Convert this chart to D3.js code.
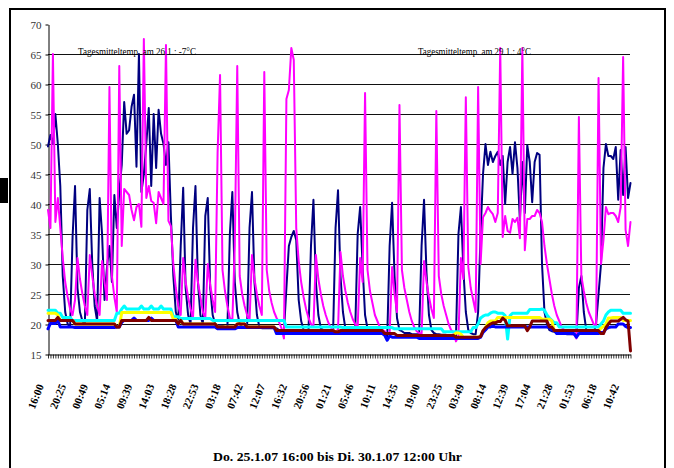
<!DOCTYPE html>
<html><head><meta charset="utf-8">
<script src="https://cdn.jsdelivr.net/npm/d3@7"></script>
<style>body{margin:0;background:#fff}svg{display:block}</style>
</head><body>
<script>
// ---- data (one value per logged reading, 25.1.07 16:00 .. 30.1.07 12:00) ----
const pink = [
39,36,65,37,41,36,31,27,24.5,22.5,
21.5,24,31,27.5,25,23,21.5,31.5,28,25,
23,21.5,30.5,27,24,59.5,28,24.5,22,63,
33,42.5,42,41.5,39,37.3,39.5,40,36.2,67.5,
41,43,40.5,40.2,36.8,42,41,40,66.5,37.2,
36.3,30,26,23,21.5,31,27,24.5,22.5,21,
30.7,27,24.5,22,21,30,26.5,24,22,48.5,
61.5,29,25.5,23,21,20.5,33,63,28,25,
23,21.5,20.5,31.5,27.5,25,23,21.5,62,29,
25.5,23.5,22,21,20.3,19.3,17.6,57.5,59,66,
64,36,30.5,27,24.5,22.5,21,20,19.5,31.5,
27.5,25,23,21.5,20.3,19.5,19,18.8,19,32,
28,25.5,23.5,22,20.8,20,19.5,31,27,58.5,
29,25.5,23.5,21.5,20.5,19.5,19,18.8,18.5,18.5,
29.5,25,22,56.5,29,26,24,22,20.5,19.5,
18.8,18.5,18.3,30.5,27,24.5,22.5,21,55.5,28,
25,23,21.5,20,19,18.5,17.1,18,31,27.5,
57.8,29.5,26,24,22,59.5,30,37.8,38.5,39.5,
38.8,38.3,37,38.5,66,34.5,38,35.5,35.2,37.5,
37,37.7,34.3,66,32.3,37.5,37.5,38,38,39,
38.5,37,33,30,27.5,25,23,21.5,20.5,19.5,
19,18.8,18.5,18.3,18.3,17.6,54.5,28,25.5,23.5,
22,21,20,19.5,61,30,34,39.5,38.3,38.5,
38.5,38,37,39.5,64.5,35.7,33,37
];
const navy = [
49.6,51.5,50,55,50,43,28,22,20,19.5,
34.5,43,26,22,20.5,20,39,42.5,30,23,
20.5,41,35,24,29.5,33,27,41.5,36,42,
46.5,57,51.7,52.3,56.2,58.2,46.2,65,42,45,
50,56,43,55,46,55.7,51.7,50,46.5,50.3,
38,28,22,20.5,33,42.7,26,21.5,20,36,
43,27,21.5,20,38,41,26,21.5,20,19.8,
19.8,19.7,19.5,19.5,35,42,27,22,20,19.5,
19.5,19.5,36,42,27,21.5,19.5,19.3,19.3,19.3,
19.3,19.3,19.3,19.3,19,19,18.8,26,33,34.5,
35.5,34,24,20.5,19,19,19,33,40.7,27,
21.5,19.3,19,19,19,19,18.8,36,42.3,28,
22,19.2,19,19,19,19,35,39.5,29.5,21.5,
19.2,19,19,18.8,18.8,18.8,18.8,18.5,17.5,33,
40.2,28,21,19,18.8,18.5,18.5,18.5,18.3,18.3,
18.3,18.3,33,40.7,28.5,21.5,19,18.5,18.3,18.3,
18.2,18.2,18.2,18,18,18,18,35,39.5,29,
22,19,18.5,18.3,18.3,22,35,45,50,46.5,
48.7,47,48,48.7,46.5,48,40,47,49.5,45,
50.3,46,37.3,47,38.5,49.8,47,40.3,47,48.5,
48.2,30,22,20,19,18.8,18.7,18.5,18.5,18.5,
18.5,18.3,18.3,18.3,18.3,18,26,28,22,19,
18.7,18.5,18.5,20,25,30,46,50,48,48,
47.5,49.5,40.7,49,41.5,49.5,41,43.5
];
const cyan = [
22.3,22.3,22.3,22.3,21.8,21.8,21.1,21.1,21.1,21.1,
20.6,20.6,20.6,20.6,20.6,20.6,20.6,20.6,20.6,20.6,
20.6,20.6,20.6,20.6,20.6,20.6,20.6,20.6,21.8,21.8,
22.5,23,22.5,22.5,22.5,22.5,22.5,22.5,23,22.5,
22.5,22.5,23,22.5,22.5,22.5,23,22.5,22.5,22.5,
22.5,21.2,21.2,21.2,20.9,20.9,20.9,20.9,20.9,20.9,
20.9,20.9,20.9,20.9,20.9,20.9,20.9,20.6,20.6,20.6,
20.6,20.6,20.6,20.6,20.6,20.6,20.6,20.6,20.6,20.6,
20.6,20.6,20.6,20.6,20.6,20.6,20.6,20.6,20.6,20.6,
20.6,20.6,20.6,20.6,20.6,20.6,20.6,19.5,19.5,19.5,
19.5,19.5,19.5,19.5,19.5,19.5,19.5,19.5,19.5,19.5,
19.5,19.5,19.5,19.5,19.5,19.5,19.5,19.5,19.5,19.5,
19.4,19.4,19.4,19.4,19.4,19.4,19.4,19.4,19.4,19.4,
19.4,19.4,19.4,19.4,19.4,19.4,19.4,19.4,19.4,19.4,
19.4,19.2,19.2,19.2,19.2,19.2,19.2,19.2,19.2,19.2,
19.2,19.2,19.2,19.2,19.2,19.2,19.2,19.2,19.2,19.2,
19.2,18.7,18.7,18.7,18.7,18.7,18.7,18.7,18.7,18.7,
18.7,18.7,18.7,19.4,19.4,20,21,21.3,21.5,21.5,
21.8,22,22,21.8,21.8,21.8,21.4,17.5,21.4,21.8,
21.8,21.8,21.8,21.8,21.8,21.8,22.4,22.4,22.4,22.4,
22.4,22.5,22.3,21.5,21,20.6,20.2,20.2,19.5,19.5,
19.5,19.5,19.5,19.5,19.5,19.5,19.5,19.5,19.5,19.5,
19.5,19.5,19.5,19.5,19.5,20,20.5,21.5,22,22.3,
22.3,22.3,22.3,22.3,21.8,21.8,21.8,21.8
];
const yellow = [
21.8,21.8,21.8,21.8,21.5,20.6,20.6,20.6,20.6,20.6,
20.6,20,20,20,20,20,20,20,20,20,
20,20,20,20,20,20,20,20,19.5,19.5,
21.9,21.9,21.9,21.9,21.9,21.9,21.9,21.9,21.9,21.9,
21.9,21.9,21.9,21.9,21.9,21.9,21.9,21.9,21.9,21.9,
21.9,20.8,20.8,20,20.6,20,20,20,20,20,
20,20,20,20,20,20,20,20,20,19.5,
19.5,19.5,19.5,19.5,19.5,19.5,19.5,20,20,20,
20,19.5,19.5,19.5,19.5,19.5,19.5,19.5,19.5,19.5,
19.5,19.5,19.5,18.9,18.9,18.9,18.9,18.9,18.9,18.9,
18.9,18.9,18.9,18.9,18.9,18.9,18.9,18.9,18.9,18.9,
18.9,18.9,18.9,18.9,18.9,18.9,18.9,18.7,18.7,18.9,
18.9,18.9,18.9,18.9,18.9,18.9,18.9,18.9,18.9,18.9,
18.9,18.9,18.9,18.9,18.9,18.9,18.9,18.4,18.4,18.4,
18.4,18.4,18.1,18.1,18.1,18.1,18.1,18.1,18.1,18.1,
18.1,18.1,18.1,18.1,18.1,18.1,18.1,18.1,18.1,18.1,
18.1,18.1,18.1,18.1,18.1,18.1,18.5,18.5,18.3,17.8,
17.8,17.8,17.8,17.8,17.8,17.8,17.9,18.9,19.4,20.2,
20.5,20.5,20.5,21.1,21.1,21.1,21.1,21.1,21.1,21.1,
21.1,21.1,21.1,21.1,21.1,21.1,21.1,21.1,21.1,21.1,
21.1,20.8,20.8,20.8,20.8,20.5,18.9,18.9,18.9,18.9,
18.9,18.9,18.9,18.9,18.9,18.9,18.9,18.9,18.9,18.9,
18.9,18.9,18.9,18.9,18.9,19.3,19.6,20,21,21,
21.1,21.1,21.1,21.1,20.6,20.6,20.6,20.6
];
const blue = [
19.2,20.1,20.1,20.1,20.6,19.5,19.5,19.5,19.5,19.5,
19.5,19.4,19.4,19.4,19.4,19.4,19.4,19.4,19.4,19.4,
19.4,19.4,19.4,19.4,19.4,19.4,19.4,19.4,19.5,19.5,
20.3,20.6,20.6,20.6,20.6,21,20.6,20.6,20.6,20.6,
20.6,20.6,21,20.6,20.6,20.6,20.6,20.6,20.6,20.6,
20.6,20.6,20.6,19.5,19.5,19.5,19.5,19.5,19.5,19.5,
19.5,19.5,19.5,19.5,19.5,19.5,19.5,19.5,19.5,19.2,
19.2,19.2,19.2,19.2,19.2,19.2,19.2,19.4,19.4,19.4,
19.4,19.4,19.4,19.4,19.4,19.4,19.4,19.4,19.4,19.4,
19.4,19.4,19.4,18.4,18.4,18.4,18.4,18.4,18.4,18.4,
18.4,18.4,18.4,18.4,18.4,18.4,18.4,18.4,18.4,18.4,
18.4,18.4,18.4,18.4,18.4,18.4,18.4,18.4,18.4,18.4,
18.4,18.4,18.4,18.4,18.4,18.4,18.4,18.4,18.4,18.4,
18.4,18.4,18.4,18.4,18.4,18.4,18.4,18.1,17.3,18,
17.8,17.8,17.8,17.8,17.8,17.8,17.8,17.8,17.8,17.8,
17.8,17.6,17.6,17.6,17.6,17.6,17.6,17.6,17.6,17.6,
17.6,17.6,17.6,17.6,17.6,17.6,17.6,17.6,17.6,17.6,
17.6,17.6,17.6,17.6,17.6,17.6,17.8,18.6,19,19.5,
19.5,19.7,19.5,19.5,19.5,19.5,19.5,19.5,19.5,19.5,
19.5,19.5,19.5,19.5,19.5,19.5,19.5,19.5,19.5,19.5,
19.5,19.5,19.5,19.5,19.4,19,19,18.4,18.4,18.4,
18.4,18.4,18.4,18.4,18.4,17.8,18.4,18.4,18.4,18.4,
18.4,18.4,18.4,18.4,18.4,18.6,18.6,19.2,19.4,19.5,
19.5,19.5,20,20,20,19.6,19.4,19.4
];
const brown = [
20.6,20.6,20.6,20.6,21.1,20.6,20.6,20.6,20.6,20.6,
20.6,20,20,20,20,20,20,20,20,20,
20,20,20,20,20,20,20,20,19.5,19.5,
20.6,20.6,20.6,20.6,20.6,20.6,20.6,20.6,20.6,20.6,
20.6,21.1,20.6,20.6,20.6,20.6,20.6,20.6,20.6,20.6,
20.6,20.6,20.6,20,20.6,20,20,20,20,20,
20,20,20,20,20,20,20,20,20,19.5,
19.5,19.5,19.5,19.5,19.5,19.5,19.5,20,20,20,
20,19.5,19.5,19.5,19.5,19.5,19.5,19.5,19.5,19.5,
19.5,19.5,19.5,18.9,18.9,18.9,18.9,18.9,18.9,18.9,
18.9,18.9,18.9,18.9,18.9,18.9,18.9,18.9,18.9,18.9,
18.9,18.9,18.9,18.9,18.9,18.9,18.9,18.7,18.7,18.9,
18.9,18.9,18.9,18.9,18.9,18.9,18.9,18.9,18.9,18.9,
18.9,18.9,18.9,18.9,18.9,18.9,18.9,18.4,18.4,18.4,
18.4,18.4,18.1,18.1,18.1,18.1,18.1,18.1,18.1,18.1,
18.1,18.1,18.1,18.1,18.1,18.1,18.1,18.1,18.1,18.1,
18.1,18.1,18.1,18.1,18.1,18.1,17.8,17.8,17.8,17.8,
17.8,17.8,17.8,17.8,17.8,17.8,17.9,18.9,19.4,19.7,
20,20.2,20.2,20.4,20.4,21,20.6,19.7,19.7,19.7,
19.7,19.7,19.7,19.7,19.7,18.9,19.5,20.5,20.5,20.5,
20.5,20.5,20.5,20.5,19.5,19.5,18.9,18.9,18.9,18.9,
18.9,18.9,18.9,18.9,18.9,18.9,18.9,18.9,18.9,18.9,
18.9,18.9,18.9,18.9,18.9,18.4,18.4,19.4,20,20.5,
20.5,20.5,20.5,20.8,21.1,20.7,20.5,15.5
];
const tickLabels = ["16:00","20:25","00:49","05:14","09:39","14:03","18:28","22:53","03:18","07:42","12:07","16:32","20:56","01:21","05:46","10:11","14:35","19:00","23:25","03:49","08:14","12:39","17:04","21:28","01:53","06:18","10:42"];
const labelEvery = 9;
const yTicks = [15,20,25,30,35,40,45,50,55,60,65,70];
const gridValues = [20,25,30,35,40,45,50,55,60,65];
const notes = [
  {text:"Tagesmitteltemp. am 26.1.: -7°C", at:12},
  {text:"Tagesmitteltemp. am 29.1.: 4°C", at:151}
];
const titleText = "Do. 25.1.07 16:00 bis Di. 30.1.07 12:00 Uhr";

// ---- drawing ----
const W = 674, H = 468;
const svg = d3.select("body").append("svg").attr("width", W).attr("height", H)
  .style("font-family", "'Liberation Serif','Times New Roman',serif");

svg.append("rect").attr("x", 10).attr("y", 9).attr("width", 655).attr("height", 480)
  .attr("fill", "none").attr("stroke", "#000").attr("stroke-width", 2);
svg.append("rect").attr("x", 0).attr("y", 178).attr("width", 8).attr("height", 25).attr("fill", "#000");

const N = pink.length;
const x = d3.scaleLinear().domain([0, N - 1]).range([48, 630.5]);
const y = d3.scaleLinear().domain([15, 70]).range([354, 24]);

// gridlines
svg.append("g").selectAll("line").data(gridValues).join("line")
  .attr("x1", 48).attr("x2", 630)
  .attr("y1", d => Math.round(y(d)) + 0.5).attr("y2", d => Math.round(y(d)) + 0.5)
  .attr("stroke", "#111").attr("stroke-width", 1);

// y axis
const ya = svg.append("g").attr("transform", "translate(48.5,0.5)")
  .call(d3.axisLeft(y).tickValues(yTicks).tickSize(3).tickSizeOuter(0).tickPadding(4).tickFormat(d3.format("d")));
ya.select(".domain").attr("stroke", "#000");
ya.selectAll(".tick line").attr("stroke", "#000");
ya.selectAll("text").attr("font-size", 11).attr("fill", "#333")
  .attr("font-family", "'Liberation Serif',serif");

// series
const line = d3.line().x((d, i) => x(i)).y(d => y(d)).curve(d3.curveLinear);
const series = [
  {v: navy, c: "#000080", w: 2},
  {v: pink, c: "#FF00FF", w: 2},
  {v: cyan, c: "#00FFFF", w: 3},
  {v: yellow, c: "#FFFF00", w: 3},
  {v: blue, c: "#0000FF", w: 3},
  {v: brown, c: "#800000", w: 3}
];
svg.append("g").selectAll("path").data(series).join("path")
  .attr("d", s => line(s.v)).attr("fill", "none")
  .attr("stroke", s => s.c).attr("stroke-width", s => s.w)
  .attr("stroke-linejoin", "round").attr("stroke-linecap", "round");

// x axis
const xa = svg.append("g").attr("transform", "translate(0,354.5)")
  .call(d3.axisBottom(x).tickValues(d3.range(N)).tickSize(4).tickSizeOuter(0)
    .tickFormat(i => i % labelEvery === 0 ? tickLabels[i / labelEvery] : ""));
xa.select(".domain").attr("stroke", "#000");
xa.selectAll(".tick line").attr("stroke", "#000").attr("stroke-width", 0.8);
xa.selectAll("text").attr("y", 0).attr("dy", "0.35em").attr("x", 0)
  .attr("transform", "translate(-8,30) rotate(-68)")
  .attr("text-anchor", "end").attr("font-size", 11).attr("font-weight", "bold")
  .attr("fill", "#000").attr("font-family", "'Liberation Serif',serif");

// annotations
const noteLen = [118, 113];
svg.append("g").selectAll("text").data(notes).join("text")
  .attr("x", (d, i) => i === 0 ? 78 : 418).attr("y", 55)
  .attr("font-size", 11).attr("fill", "#000")
  .attr("textLength", (d, i) => noteLen[i]).attr("lengthAdjust", "spacingAndGlyphs")
  .text(d => d.text);

// bottom title
svg.append("text").attr("x", 213).attr("y", 461)
  .attr("font-size", 12).attr("font-weight", "bold").attr("fill", "#000")
  .attr("textLength", 249).attr("lengthAdjust", "spacingAndGlyphs")
  .text(titleText);
</script>
</body></html>
